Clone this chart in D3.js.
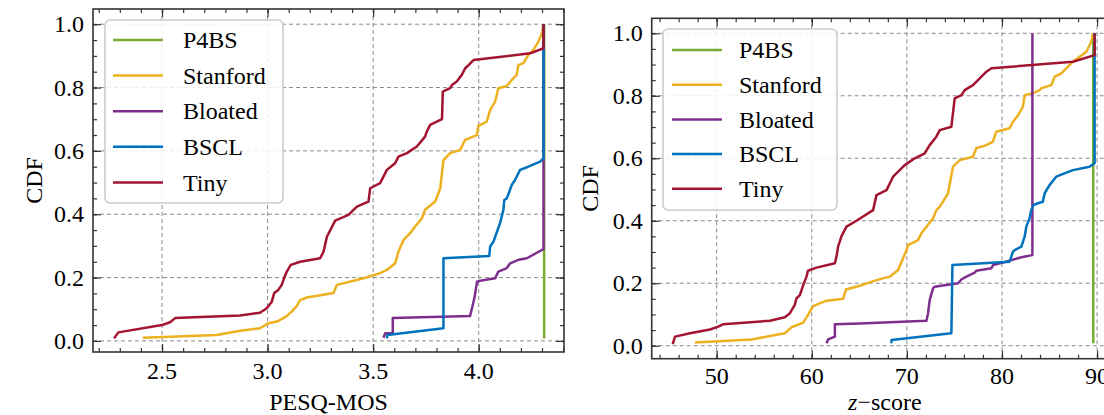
<!DOCTYPE html>
<html lang="en">
<head>
    <meta charset="UTF-8">
    <script src="https://d3js.org/d3.v7.min.js"></script>
    <title>CDF PESQ-MOS / z-score</title>
    <style>
        body{
            margin: 0;
            background: #fff;
        }
        svg{
            display: block;
            font-family: "Liberation Serif", serif;
        }
        .grid line{
            stroke: #8a8a8a;
            stroke-width: 1;
            stroke-dasharray: 4,3;
        }
        .series{
            fill: none;
            stroke-width: 2.5;
            stroke-linejoin: round;
        }
    </style>
</head>
<body>
<svg width="1104" height="415"></svg>
<script>
// series names and colours (legend order = draw order)
const names = ["P4BS", "Stanford", "Bloated", "BSCL", "Tiny"]
const colors = ["#77AC30", "#EDB120", "#7E2F8E", "#0072BD", "#A2142F"]

// ---- left panel: PESQ-MOS, points are [value, cdf]
const pesqP4BS = [[4.31,0.008],[4.31,1.0]]
const pesqStanford = [[2.409,0.010],[2.759,0.019],[2.870,0.032],[2.964,0.040],[3.004,0.056],[3.044,0.061],[3.091,0.078],[3.115,0.093],[3.138,0.110],[3.154,0.129],[3.186,0.137],[3.312,0.151],[3.328,0.177],[3.455,0.198],[3.533,0.214],[3.565,0.224],[3.604,0.245],[3.620,0.282],[3.644,0.319],[3.675,0.340],[3.699,0.361],[3.731,0.387],[3.746,0.414],[3.794,0.440],[3.818,0.482],[3.833,0.571],[3.865,0.593],[3.912,0.603],[3.936,0.635],[3.991,0.650],[3.998,0.679],[4.038,0.692],[4.054,0.729],[4.078,0.756],[4.093,0.798],[4.133,0.805],[4.157,0.824],[4.180,0.840],[4.188,0.871],[4.212,0.877],[4.235,0.903],[4.259,0.919],[4.283,0.945],[4.299,0.971],[4.307,1.0]]
const pesqBloated = [[3.549,0.010],[3.557,0.024],[3.593,0.024],[3.593,0.072],[3.959,0.079],[3.970,0.108],[3.981,0.140],[3.992,0.187],[4.006,0.190],[4.078,0.198],[4.093,0.219],[4.133,0.230],[4.149,0.245],[4.188,0.256],[4.228,0.261],[4.299,0.287],[4.307,0.290],[4.307,1.0]]
const pesqBSCL = [[3.565,0.008],[3.568,0.019],[3.833,0.040],[3.833,0.261],[4.050,0.268],[4.054,0.298],[4.070,0.314],[4.101,0.372],[4.117,0.414],[4.121,0.445],[4.133,0.450],[4.157,0.493],[4.172,0.508],[4.196,0.540],[4.235,0.550],[4.291,0.566],[4.307,0.577],[4.307,1.0]]
const pesqTiny = [[2.273,0.008],[2.293,0.027],[2.5,0.05],[2.538,0.059],[2.562,0.072],[2.870,0.080],[2.964,0.089],[2.996,0.103],[3.020,0.124],[3.031,0.151],[3.051,0.161],[3.067,0.177],[3.078,0.198],[3.091,0.219],[3.110,0.240],[3.154,0.250],[3.249,0.261],[3.265,0.282],[3.281,0.329],[3.320,0.380],[3.383,0.398],[3.423,0.424],[3.478,0.440],[3.486,0.482],[3.533,0.498],[3.565,0.540],[3.604,0.561],[3.620,0.582],[3.660,0.593],[3.707,0.614],[3.746,0.645],[3.754,0.661],[3.770,0.682],[3.826,0.700],[3.830,0.787],[3.865,0.798],[3.873,0.808],[3.896,0.819],[3.920,0.840],[3.936,0.861],[3.952,0.871],[3.976,0.887],[4.244,0.908],[4.307,0.924],[4.307,1.0]]

// ---- right panel: z-score
const zP4BS = [[89.6,0.008],[89.6,1.0]]
const zStanford = [[47.72,0.010],[53.68,0.020],[57.17,0.040],[57.88,0.059],[59.1,0.074],[59.5,0.093],[59.8,0.109],[60.15,0.127],[61.4,0.143],[63.3,0.150],[63.6,0.180],[65.05,0.192],[66.8,0.210],[68.2,0.221],[69.08,0.242],[69.6,0.280],[69.96,0.306],[70.13,0.322],[71.18,0.338],[71.53,0.360],[72.06,0.381],[72.76,0.408],[73.1,0.434],[73.46,0.445],[73.8,0.461],[74.33,0.488],[74.85,0.573],[75.56,0.594],[76.95,0.605],[77.3,0.632],[78.36,0.642],[79.05,0.653],[79.4,0.685],[80.8,0.696],[81.16,0.717],[81.7,0.738],[82.2,0.765],[82.4,0.802],[83.25,0.808],[83.96,0.818],[84.14,0.824],[85.19,0.834],[85.54,0.861],[86.24,0.872],[87.46,0.909],[88.16,0.925],[88.87,0.941],[89.39,0.973],[89.56,1.0]]
const zBloated = [[61.55,0.008],[61.72,0.020],[62.43,0.029],[62.43,0.069],[65.05,0.071],[72.06,0.080],[72.23,0.104],[72.4,0.146],[72.76,0.184],[72.93,0.189],[75.38,0.200],[75.73,0.212],[76.26,0.221],[77.13,0.234],[77.3,0.240],[78.89,0.248],[79.06,0.258],[80.1,0.266],[81.68,0.280],[82.04,0.283],[83.2,0.290],[83.2,1.0]]
const zBSCL = [[68.38,0.008],[68.38,0.018],[74.68,0.040],[74.79,0.258],[80.8,0.269],[81.16,0.301],[81.33,0.306],[82.04,0.317],[82.38,0.349],[82.56,0.381],[82.9,0.408],[83.08,0.434],[83.3,0.450],[83.78,0.456],[84.3,0.461],[84.49,0.488],[85.0,0.514],[85.7,0.541],[87.46,0.562],[89.2,0.573],[89.74,0.584],[89.74,1.0]]
const zTiny = [[45.38,0.005],[45.62,0.029],[47.2,0.040],[49.3,0.052],[50.17,0.061],[50.7,0.069],[55.6,0.080],[57.17,0.091],[57.7,0.104],[58.2,0.130],[58.4,0.152],[58.75,0.162],[59.1,0.194],[59.45,0.221],[59.6,0.240],[60.5,0.250],[62.43,0.264],[62.6,0.285],[62.77,0.317],[63.13,0.351],[63.65,0.381],[64.7,0.400],[66.45,0.434],[66.8,0.482],[67.86,0.498],[68.55,0.541],[69.78,0.578],[70.83,0.600],[71.88,0.616],[72.4,0.642],[73.1,0.669],[73.46,0.690],[74.68,0.701],[75.03,0.792],[75.74,0.802],[76.08,0.818],[76.95,0.834],[77.66,0.856],[78.36,0.877],[78.9,0.888],[87.46,0.909],[89.74,0.930],[89.74,1.0]]

// ticks
const yTicks = [0, 0.2, 0.4, 0.6, 0.8, 1.0]
const pesqTicks = [2.5, 3.0, 3.5, 4.0]
const zTicks = [50, 60, 70, 80, 90]

let svg = d3.select("svg")

function drawPanel(p, id){
    let x = d3.scaleLinear().domain(p.xDomain).range([p.left, p.right])
    let y = d3.scaleLinear().domain([-p.yPad, 1.048]).range([p.bottom, p.top])
    let g = svg.append("g")

    svg.append("clipPath").attr("id", id).append("rect")
        .attr("x", p.left).attr("y", p.top)
        .attr("width", p.right - p.left).attr("height", p.bottom - p.top)

    // grid
    let grid = g.append("g").attr("class", "grid")
    grid.selectAll(".gx").data(p.xTicks).join("line")
        .attr("x1", d => x(d)).attr("x2", d => x(d))
        .attr("y1", p.top).attr("y2", p.bottom)
    grid.selectAll(".gy").data(yTicks).join("line")
        .attr("x1", p.left).attr("x2", p.right)
        .attr("y1", d => y(d)).attr("y2", d => y(d))

    // series
    let line = d3.line().x(d => x(d[0])).y(d => y(d[1]))
    g.append("g").attr("clip-path", "url(#" + id + ")")
        .selectAll("path").data(p.series).join("path")
        .attr("class", "series")
        .attr("stroke", (d, i) => colors[i])
        .attr("d", d => line(d))

    // ticks inside on all four sides
    let inner = (s, len) => s.tickSizeInner(-len).tickSizeOuter(0)
    let minorX = d3.range(p.minor[0], p.minor[1] + 1e-9, p.minor[2])
    let minorY = d3.range(0, 1.0001, 0.05)
    let axes = [
        [d3.axisBottom(x), "translate(0," + p.bottom + ")", p.xTicks, minorX],
        [d3.axisTop(x), "translate(0," + p.top + ")", p.xTicks, minorX],
        [d3.axisLeft(y), "translate(" + p.left + ",0)", yTicks, minorY],
        [d3.axisRight(y), "translate(" + p.right + ",0)", yTicks, minorY]
    ]
    axes.forEach(a => {
        let minor = g.append("g").attr("transform", a[1])
            .call(inner(a[0], 4).tickValues(a[3]).tickFormat(""))
        minor.select(".domain").remove()
        let major = g.append("g").attr("transform", a[1])
            .call(inner(a[0], 8).tickValues(a[2]).tickFormat(""))
        major.select(".domain").remove()
    })
    g.selectAll(".tick line").attr("stroke", "#333").attr("stroke-width", 1.2)

    // frame
    g.append("rect")
        .attr("x", p.left).attr("y", p.top)
        .attr("width", p.right - p.left).attr("height", p.bottom - p.top)
        .attr("fill", "none").attr("stroke", "#333").attr("stroke-width", 1.6)

    // tick labels
    g.selectAll(".xl").data(p.xTicks).join("text")
        .attr("x", d => x(d)).attr("y", p.bottom + p.xLabOff)
        .attr("text-anchor", "middle").attr("font-size", 24)
        .text(p.fmt)
    g.selectAll(".yl").data(yTicks).join("text")
        .attr("x", p.left - 9).attr("y", d => y(d))
        .attr("dy", "0.34em")
        .attr("text-anchor", "end").attr("font-size", 24)
        .text(d3.format(".1f"))

    // axis titles
    g.append("text")
        .attr("transform", "translate(" + p.yTitleX + "," + (p.top + p.bottom) / 2 + ") rotate(-90)")
        .attr("text-anchor", "middle").attr("font-size", 24)
        .text("CDF")
    let xt = g.append("text")
        .attr("x", (p.left + p.right) / 2).attr("y", p.xTitleY)
        .attr("text-anchor", "middle").attr("font-size", 24)
    p.xTitle(xt)

    // legend
    let lg = g.append("g")
    lg.append("rect")
        .attr("x", p.legend.x).attr("y", p.legend.y)
        .attr("width", p.legend.w).attr("height", p.legend.h)
        .attr("rx", 5)
        .attr("fill", "#fff").attr("fill-opacity", 0.85)
        .attr("stroke", "#cccccc").attr("stroke-width", 1.6)
    let rows = lg.selectAll(".row").data(names).join("g")
        .attr("transform", (d, i) => "translate(0," + (p.legend.row0 + i * p.legend.step) + ")")
    rows.append("line")
        .attr("x1", p.legend.lx0).attr("x2", p.legend.lx1)
        .attr("stroke", (d, i) => colors[i]).attr("stroke-width", 2.5)
    rows.append("text")
        .attr("x", p.legend.tx).attr("dy", "0.34em")
        .attr("font-size", 24)
        .text(d => d)
}

drawPanel({
    left: 93, right: 564, top: 9, bottom: 352,
    xDomain: [2.173, 4.404], yPad: 0.035,
    xTicks: pesqTicks, minor: [2.2, 4.4, 0.1],
    fmt: d3.format(".1f"), xLabOff: 27,
    yTitleX: 42, xTitleY: 410,
    xTitle: t => t.text("PESQ-MOS"),
    series: [pesqP4BS, pesqStanford, pesqBloated, pesqBSCL, pesqTiny],
    legend: {x: 105, y: 20, w: 178, h: 183, row0: 40, step: 35.6, lx0: 113, lx1: 163, tx: 183}
}, "clipL")

drawPanel({
    left: 651.7, right: 1118, top: 18.3, bottom: 358.7,
    xDomain: [43.17, 92.2], yPad: 0.0416,
    xTicks: zTicks, minor: [44, 92, 2],
    fmt: d3.format("d"), xLabOff: 25,
    yTitleX: 598, xTitleY: 410,
    xTitle: t => {
        t.append("tspan").attr("font-style", "italic").text("z")
        t.append("tspan").text("\u2212score")
    },
    series: [zP4BS, zStanford, zBloated, zBSCL, zTiny],
    legend: {x: 663, y: 29, w: 174, h: 181, row0: 50, step: 34.7, lx0: 672, lx1: 722, tx: 739}
}, "clipR")
</script>
</body>
</html>
